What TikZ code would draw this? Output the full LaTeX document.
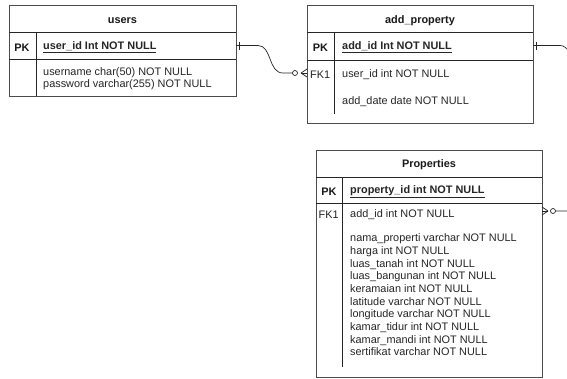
\documentclass[tikz,border=0pt]{standalone}
\usepackage{fontspec}
\setmainfont{Liberation Sans}
\begin{document}
\begin{tikzpicture}[x=1pt,y=-1pt,
  tbl/.style={draw=black!70,line width=0.9pt,inner sep=0pt,anchor=north west},
  sep/.style={draw=black!85,line width=0.8pt},
  conn/.style={draw=black!85,line width=0.7pt},
  txt/.style={inner sep=0pt,anchor=west,yshift=-1.5pt,font=\fontsize{10.9}{12.6}\selectfont,text=black!85},
  ttl/.style={inner sep=0pt,yshift=-1.5pt,font=\fontsize{10.9}{12.6}\selectfont\bfseries,text=black!90},
  lst/.style={inner sep=0pt,anchor=north west,align=left,font=\fontsize{10.9}{12.7}\selectfont,text=black!85}]
\useasboundingbox (0,0) rectangle (567,378);
\clip (0,0) rectangle (567,378);
\fill[white] (0,0) rectangle (567,378);

% users
\node[tbl,minimum width=227pt,minimum height=91pt] (users) at (9,5) {};
\draw[sep] (9,32) -- (236,32);
\draw[sep] (9,59.5) -- (236,59.5);
\draw[sep] (36,32) -- (36,96);
\node[ttl] (usersT) at (122.5,19) {users};
\node[ttl] (usersPK) at (22,46) {PK};
\node[txt,font=\fontsize{10.9}{12.6}\selectfont\bfseries] (usersId) at (43,46) {\underline{user\_id Int NOT NULL}};
\node[lst] (usersF) at (43,67) {username char(50) NOT NULL\\password varchar(255) NOT NULL};

% add_property
\node[tbl,minimum width=226pt,minimum height=118pt] (addp) at (307,5) {};
\draw[sep] (307,32.5) -- (533,32.5);
\draw[sep] (307,60) -- (533,60);
\draw[sep] (334,32.5) -- (334,114);
\node[ttl] (addpT) at (420,19) {add\_property};
\node[ttl] (addpPK) at (320.5,46) {PK};
\node[txt,font=\fontsize{10.9}{12.6}\selectfont\bfseries] (addpId) at (342,46) {\underline{add\_id Int NOT NULL}};
\node[txt] (addpFK) at (310,73) {FK1};
\node[txt] (addpU) at (342,73) {user\_id int NOT NULL};
\node[txt] (addpD) at (342,100) {add\_date date NOT NULL};

% Properties
\node[tbl,minimum width=226pt,minimum height=227pt] (prop) at (316,150) {};
\draw[sep] (316,177) -- (542,177);
\draw[sep] (316,203.5) -- (542,203.5);
\draw[sep] (342,177) -- (342,367);
\node[ttl] (propT) at (429,163.5) {Properties};
\node[ttl] (propPK) at (329,190) {PK};
\node[txt,font=\fontsize{10.9}{12.6}\selectfont\bfseries] (propId) at (350,190) {\underline{property\_id int NOT NULL}};
\node[txt] (propFK) at (318.5,213) {FK1};
\node[txt] (propA) at (350,213) {add\_id int NOT NULL};
\node[lst] (propF) at (350,233.5) {nama\_properti varchar NOT NULL\\harga int NOT NULL\\luas\_tanah int NOT NULL\\luas\_bangunan int NOT NULL\\keramaian int NOT NULL\\latitude varchar NOT NULL\\longitude varchar NOT NULL\\kamar\_tidur int NOT NULL\\kamar\_mandi int NOT NULL\\sertifikat varchar NOT NULL};

% connector users -> add_property
\coordinate (u1) at (236,45.5);
\coordinate (a1) at (307,73);
\draw[conn] (u1) -- (258,45.5) .. controls (272,45.5) and (268,73) .. (283,73) -- (292.5,73);
\draw[conn] (239.5,41.5) -- (239.5,49.5);
\draw[conn] (295,73) circle (2.5);
\draw[conn] (301,73) -- (a1);
\draw[conn] (301,73) -- (307,69);
\draw[conn] (301,73) -- (307,77);

% connector add_property -> Properties
\coordinate (a2) at (533,45.5);
\coordinate (p2) at (542,211);
\draw[conn] (a2) -- (560,45.5) .. controls (590,45.5) and (590,211) .. (570,211) -- (555.5,211);
\draw[conn] (536.5,41.5) -- (536.5,49.5);
\draw[conn] (553,211) circle (2.5);
\draw[conn] (548,211) -- (p2);
\draw[conn] (548,211) -- (542,207);
\draw[conn] (548,211) -- (542,215);
\end{tikzpicture}
\end{document}
